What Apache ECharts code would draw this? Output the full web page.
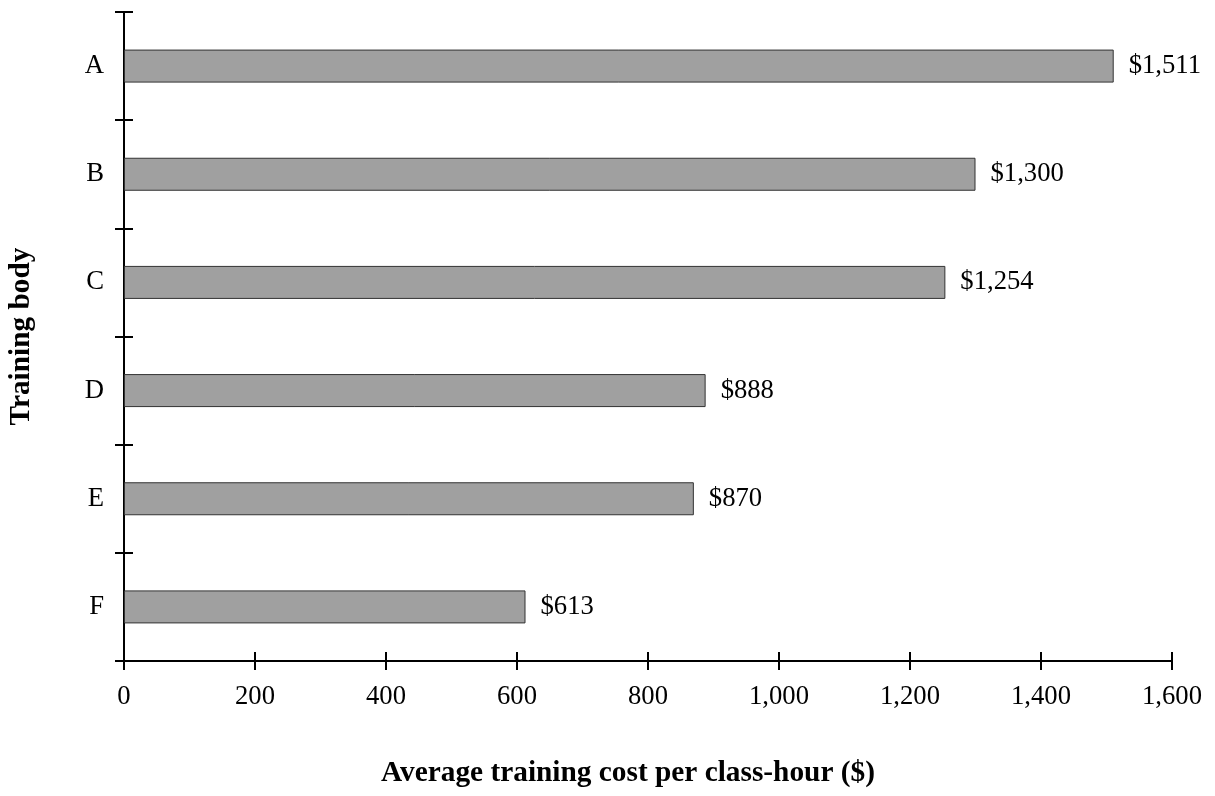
<!DOCTYPE html>
<html>
<head>
<meta charset="utf-8">
<script src="https://cdn.jsdelivr.net/npm/echarts@6/dist/echarts.min.js"></script>
<style>
  html, body { margin: 0; padding: 0; background: #fff; }
  #chart { width: 1215px; height: 796px; }
</style>
</head>
<body>
<div id="chart"></div>
<script>
// Average cost per class-hour by training body
const bodies = ['A', 'B', 'C', 'D', 'E', 'F'];
const costs = [1511, 1300, 1254, 888, 870, 613];
const xTicks = { min: 0, max: 1600, interval: 200 };

const FONT = '"Liberation Serif", "Times New Roman", serif';
const LABEL_SIZE = 26.67;   // 20pt
const NAME_SIZE = 29.33;    // 22pt bold
const gridBox = { left: 124, right: 43, top: 12, bottom: 135 };

const fmtMoney = v => '$' + v.toLocaleString('en-US');

// Two overlapping grids: the first carries the inner half of each tick,
// the second the outer half, so ticks cross the axis lines.
const makeGrid = () => Object.assign({ containLabel: false, outerBoundsMode: 'none' }, gridBox);

const chart = echarts.init(document.getElementById('chart'));
chart.setOption({
  animation: false,
  backgroundColor: '#fff',
  grid: [makeGrid(), makeGrid()],
  xAxis: [
    {
      gridIndex: 0,
      type: 'value',
      min: xTicks.min, max: xTicks.max, interval: xTicks.interval,
      name: 'Average training cost per class-hour ($)',
      nameLocation: 'middle',
      nameGap: 98,
      nameTextStyle: { fontFamily: FONT, fontSize: NAME_SIZE, fontWeight: 'bold', color: '#000',
                       padding: [0, 40, 0, 0] },
      axisLine: { show: true, lineStyle: { color: '#000', width: 2 } },
      axisTick: { show: true, inside: true, length: 9, lineStyle: { color: '#000', width: 2 } },
      axisLabel: { fontFamily: FONT, fontSize: LABEL_SIZE, color: '#000', margin: 22,
                   formatter: v => v.toLocaleString('en-US') },
      splitLine: { show: false }
    },
    {
      gridIndex: 1,
      type: 'value',
      min: xTicks.min, max: xTicks.max, interval: xTicks.interval,
      axisLine: { show: false },
      axisTick: { show: true, inside: false, length: 9, lineStyle: { color: '#000', width: 2 } },
      axisLabel: { show: false },
      splitLine: { show: false }
    }
  ],
  yAxis: [
    {
      gridIndex: 0,
      type: 'category',
      data: bodies,
      inverse: true,
      name: 'Training body',
      nameLocation: 'middle',
      nameGap: 88,
      nameTextStyle: { fontFamily: FONT, fontSize: NAME_SIZE, fontWeight: 'bold', color: '#000' },
      axisLine: { show: true, lineStyle: { color: '#000', width: 2 } },
      axisTick: { show: true, inside: true, length: 9, lineStyle: { color: '#000', width: 2 } },
      axisLabel: { fontFamily: FONT, fontSize: LABEL_SIZE, color: '#000', margin: 20 },
      splitLine: { show: false }
    },
    {
      gridIndex: 1,
      type: 'category',
      data: bodies,
      inverse: true,
      axisLine: { show: false },
      axisTick: { show: true, inside: false, length: 9, lineStyle: { color: '#000', width: 2 } },
      axisLabel: { show: false },
      splitLine: { show: false }
    }
  ],
  series: [
    {
      type: 'bar',
      xAxisIndex: 0,
      yAxisIndex: 0,
      data: costs,
      barWidth: 33,
      itemStyle: { color: '#a0a0a0', borderColor: '#333', borderWidth: 1 },
      label: {
        show: true,
        position: 'right',
        distance: 15,
        fontFamily: FONT,
        fontSize: LABEL_SIZE,
        color: '#000',
        formatter: p => fmtMoney(p.value)
      }
    }
  ]
});
</script>
</body>
</html>
